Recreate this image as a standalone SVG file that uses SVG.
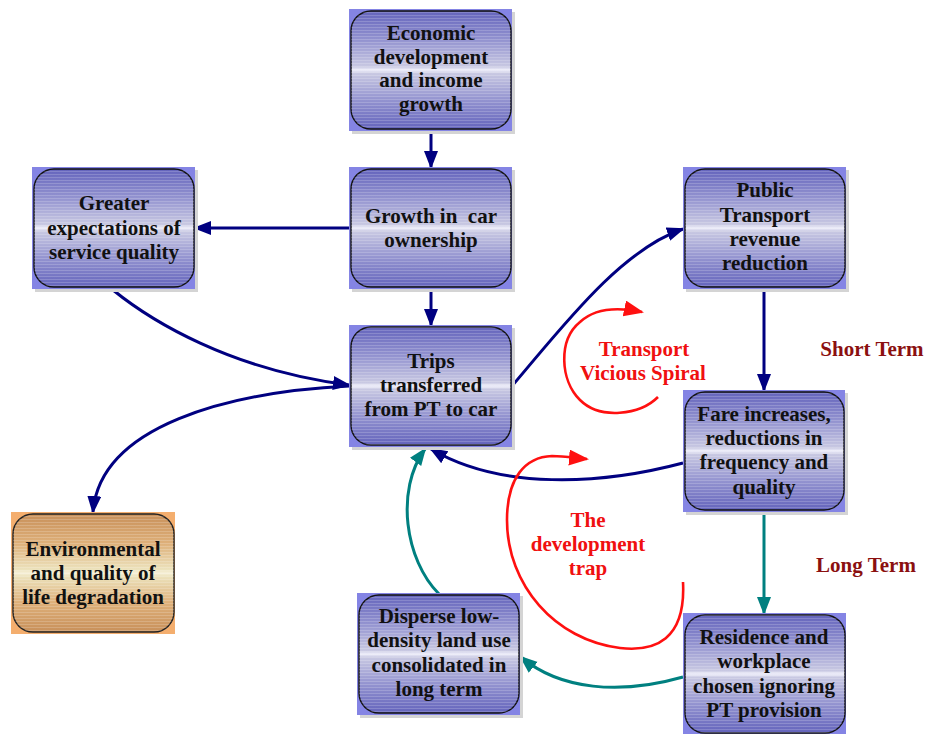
<svg xmlns="http://www.w3.org/2000/svg" width="925" height="734" viewBox="0 0 925 734">
<style>
.bg{fill:#8484e4}
.bgo{fill:#f4ae6e}
.sh{fill:#d4d4d4}
.box{fill:url(#gp);stroke:#111;stroke-width:1.4}
.boxo{fill:url(#go);stroke:#222;stroke-width:1.4}
.str{fill:url(#stripes)}
.t{font-family:"Liberation Serif","Times New Roman",serif;font-weight:bold;font-size:21px;fill:#111;text-anchor:middle}
.r{font-family:"Liberation Serif","Times New Roman",serif;font-weight:bold;font-size:21px;fill:#f01010;text-anchor:middle}
.d{font-family:"Liberation Serif","Times New Roman",serif;font-weight:bold;font-size:21px;fill:#8b1010;text-anchor:middle}
.n{fill:none;stroke:#000080;stroke-width:3;marker-end:url(#an)}
.g{fill:none;stroke:#008080;stroke-width:3;marker-end:url(#ag)}
.rd{fill:none;stroke:#ff1010;stroke-width:2.6;marker-end:url(#ar)}
</style>
<defs>
<linearGradient id="gp" x1="0" y1="0" x2="0" y2="1">
<stop offset="0" stop-color="#6464bc"/>
<stop offset="0.25" stop-color="#9494d0"/>
<stop offset="0.47" stop-color="#c8c8e2"/>
<stop offset="0.5" stop-color="#eeeefa"/>
<stop offset="0.53" stop-color="#c8c8e2"/>
<stop offset="0.75" stop-color="#9494d0"/>
<stop offset="1" stop-color="#6464bc"/>
</linearGradient>
<linearGradient id="go" x1="0" y1="0" x2="0" y2="1">
<stop offset="0" stop-color="#c8905a"/>
<stop offset="0.25" stop-color="#deb07a"/>
<stop offset="0.47" stop-color="#ece2bc"/>
<stop offset="0.5" stop-color="#f6f0d8"/>
<stop offset="0.53" stop-color="#ece2bc"/>
<stop offset="0.75" stop-color="#deb07a"/>
<stop offset="1" stop-color="#c8905a"/>
</linearGradient>
<pattern id="stripes" width="8" height="3" patternUnits="userSpaceOnUse">
<rect x="0" y="0" width="8" height="1" fill="#ffffff" fill-opacity="0.18"/>
</pattern>
<marker id="an" markerUnits="userSpaceOnUse" markerWidth="20" markerHeight="16" refX="16" refY="7" orient="auto">
<path d="M0,0 L18,7 L0,14 z" fill="#000080"/>
</marker>
<marker id="ag" markerUnits="userSpaceOnUse" markerWidth="20" markerHeight="16" refX="16" refY="7" orient="auto">
<path d="M0,0 L18,7 L0,14 z" fill="#008080"/>
</marker>
<marker id="ar" markerUnits="userSpaceOnUse" markerWidth="22" markerHeight="18" refX="18" refY="8" orient="auto">
<path d="M0,0 L20,8 L0,16 z" fill="#ff1010"/>
</marker>
</defs>

<g id="connectors">
<path class="n" d="M431,131 L431,167"/>
<path class="n" d="M349,228 L195,228"/>
<path class="n" d="M431,289 L431,325"/>
<path class="n" d="M113,290 C150,320 230,370 349,385"/>
<path class="n" d="M512,386 C560,330 620,250 683,229"/>
<path class="n" d="M764,289 L764,390"/>
<path class="n" d="M683,463 C600,485 500,490 431,449"/>
<path class="n" d="M349,386 C230,392 100,425 93,512"/>
<path class="g" d="M764,512 L764,613"/>
<path class="g" d="M683,677 C620,695 560,690 521,657"/>
<path class="g" d="M439,594 C405,560 395,490 425,449"/>
<path class="rd" d="M658,397 C640,415 600,420 580,400 C560,380 558,340 580,322 C595,308 618,307 642,312"/>
<path class="rd" d="M683,582 C686,640 655,652 620,648 C555,640 507,585 507,520 C507,478 525,457 552,456 C565,456 575,458 587,459"/>
</g>

<g id="n_econ">
<rect class="sh" x="352" y="12" width="163" height="122"/>
<rect class="bg" x="349" y="9" width="163" height="122"/>
<rect class="box" x="351" y="11" width="160" height="118" rx="20"/>
<rect class="str" x="351" y="11" width="160" height="118" rx="20"/>
<text class="t" x="431" y="40">Economic</text>
<text class="t" x="431" y="64">development</text>
<text class="t" x="431" y="87">and income</text>
<text class="t" x="431" y="111">growth</text>
</g>

<g id="n_growth">
<rect class="sh" x="352" y="170" width="163" height="122"/>
<rect class="bg" x="349" y="167" width="163" height="122"/>
<rect class="box" x="351" y="169" width="160" height="118" rx="20"/>
<rect class="str" x="351" y="169" width="160" height="118" rx="20"/>
<text class="t" x="431" y="223" xml:space="preserve" style="white-space:pre">Growth in  car</text>
<text class="t" x="431" y="247">ownership</text>
</g>

<g id="n_greater">
<rect class="sh" x="35" y="170" width="163" height="122"/>
<rect class="bg" x="32" y="167" width="163" height="122"/>
<rect class="box" x="34" y="169" width="160" height="118" rx="20"/>
<rect class="str" x="34" y="169" width="160" height="118" rx="20"/>
<text class="t" x="114" y="210">Greater</text>
<text class="t" x="114" y="235">expectations of</text>
<text class="t" x="114" y="259">service quality</text>
</g>

<g id="n_public">
<rect class="sh" x="686" y="170" width="163" height="122"/>
<rect class="bg" x="683" y="167" width="163" height="122"/>
<rect class="box" x="685" y="169" width="160" height="118" rx="20"/>
<rect class="str" x="685" y="169" width="160" height="118" rx="20"/>
<text class="t" x="765" y="197">Public</text>
<text class="t" x="765" y="222">Transport</text>
<text class="t" x="765" y="246">revenue</text>
<text class="t" x="765" y="270">reduction</text>
</g>

<g id="n_trips">
<rect class="sh" x="352" y="328" width="163" height="122"/>
<rect class="bg" x="349" y="325" width="163" height="122"/>
<rect class="box" x="351" y="327" width="160" height="118" rx="20"/>
<rect class="str" x="351" y="327" width="160" height="118" rx="20"/>
<text class="t" x="431" y="368">Trips</text>
<text class="t" x="431" y="392">transferred</text>
<text class="t" x="431" y="416">from PT to car</text>
</g>

<g id="n_fare">
<rect class="sh" x="686" y="393" width="162" height="122"/>
<rect class="bg" x="683" y="390" width="162" height="122"/>
<rect class="box" x="685" y="392" width="159" height="118" rx="20"/>
<rect class="str" x="685" y="392" width="159" height="118" rx="20"/>
<text class="t" x="764" y="421">Fare increases,</text>
<text class="t" x="764" y="445">reductions in</text>
<text class="t" x="764" y="469">frequency and</text>
<text class="t" x="764" y="494">quality</text>
</g>

<g id="n_env">
<rect class="bgo" x="11" y="512" width="164" height="122"/>
<rect class="boxo" x="13" y="514" width="161" height="118" rx="20"/>
<rect class="str" x="13" y="514" width="161" height="118" rx="20"/>
<text class="t" x="93" y="556">Environmental</text>
<text class="t" x="93" y="580">and quality of</text>
<text class="t" x="93" y="604">life degradation</text>
</g>

<g id="n_disperse">
<rect class="sh" x="360" y="596" width="163" height="122"/>
<rect class="bg" x="357" y="593" width="163" height="122"/>
<rect class="box" x="359" y="595" width="160" height="118" rx="20"/>
<rect class="str" x="359" y="595" width="160" height="118" rx="20"/>
<text class="t" x="439" y="623">Disperse low-</text>
<text class="t" x="439" y="647">density land use</text>
<text class="t" x="439" y="672">consolidated in</text>
<text class="t" x="439" y="696">long term</text>
</g>

<g id="n_residence">
<rect class="bg" x="683" y="613" width="163" height="121"/>
<rect class="box" x="685" y="615" width="160" height="118" rx="20"/>
<rect class="str" x="685" y="615" width="160" height="118" rx="20"/>
<text class="t" x="764" y="644">Residence and</text>
<text class="t" x="764" y="668">workplace</text>
<text class="t" x="764" y="693">chosen ignoring</text>
<text class="t" x="764" y="717">PT provision</text>
</g>

<g id="labels">
<text class="r" x="644" y="356">Transport</text>
<text class="r" x="643" y="380">Vicious Spiral</text>
<text class="r" x="588" y="527">The</text>
<text class="r" x="588" y="551">development</text>
<text class="r" x="588" y="575">trap</text>
<text class="d" x="872" y="356">Short Term</text>
<text class="d" x="866" y="572">Long Term</text>
</g>
</svg>
